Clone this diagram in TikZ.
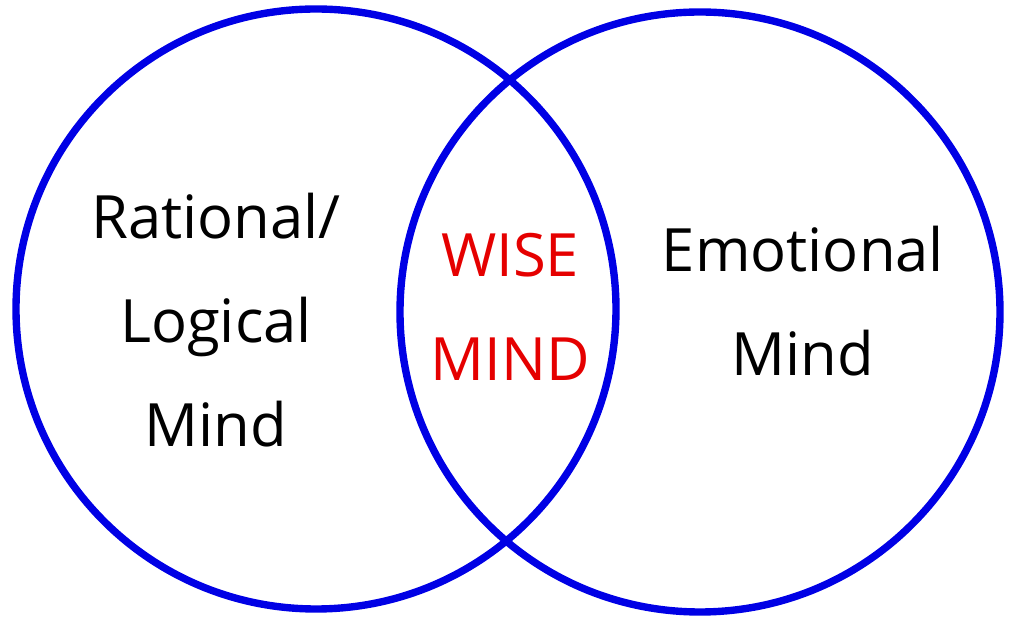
\documentclass[tikz,border=0pt]{standalone}
\usepackage{fontspec}
\setmainfont{Open Sans}
\usepackage{tikz}
\usetikzlibrary{calc}

\begin{document}
\begin{tikzpicture}
\tikzset{mindtext/.style={font=\fontsize{17}{29.5}\selectfont,align=center,inner sep=0pt}}

 \useasboundingbox (0,0) rectangle (10.18,6.29);

\draw [blue!90!black, line width=2.1pt] (3.16, 3.20) circle (3.00);
\draw [blue!90!black, line width=2.1pt] (7.00, 3.17) circle (3.00);


         \node (rational) at (2.16, 3.09) [mindtext] {Rational/\\Logical\\Mind};
         \node (wise) at (5.10, 3.22) [mindtext, text=red!90!black] {WISE\\MIND};
         \node (emotional) at (8.03, 3.28) [mindtext] {Emotional\\Mind};

\end{tikzpicture}
\end{document}
